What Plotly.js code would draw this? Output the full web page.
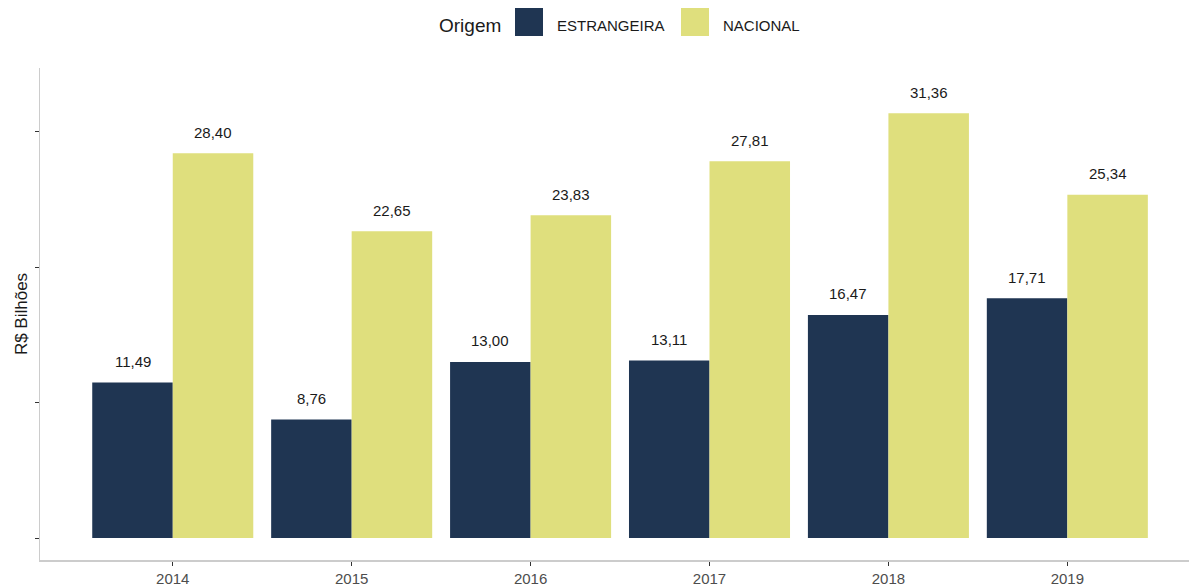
<!DOCTYPE html>
<html>
<head>
<meta charset="utf-8">
<script src="https://cdn.plot.ly/plotly-3.0.1.min.js"></script>
<style>html,body{margin:0;padding:0;background:#fff;}#chart{width:1189px;height:586px;}</style>
</head>
<body>
<div id="chart"></div>
<script>
const years = ['2014', '2015', '2016', '2017', '2018', '2019'];
const estrangeira = [11.49, 8.76, 13.00, 13.11, 16.47, 17.71];
const nacional = [28.40, 22.65, 23.83, 27.81, 31.36, 25.34];
const seriesNames = ['ESTRANGEIRA', 'NACIONAL'];
const seriesColors = ['#1f3552', '#dfdf7d'];
const yTicks = [0, 10, 20, 30];

const fmt = v => v.toFixed(2).replace('.', ',');
const FONT = 'Liberation Sans, Arial, sans-serif';

const traces = [estrangeira, nacional].map((vals, k) => ({
  type: 'bar',
  x: years,
  y: vals,
  name: seriesNames[k],
  marker: {color: seriesColors[k], line: {width: 0}},
  showlegend: false,
  hoverinfo: 'x+y+name'
}));

const annotations = [];
[estrangeira, nacional].forEach((vals, k) => {
  vals.forEach((v, i) => {
    annotations.push({
      xref: 'x', yref: 'y',
      x: i + (k === 0 ? -0.225 : 0.225),
      y: v,
      text: fmt(v),
      showarrow: false,
      yanchor: 'middle',
      yshift: 21,
      font: {family: FONT, size: 15, color: '#1a1a1a'}
    });
  });
});

// custom legend
const shapes = [];
annotations.push({
  xref: 'paper', yref: 'paper', x: (437 - 40) / 1149, y: 1 + (68 - 26) / 492,
  xanchor: 'left', yanchor: 'middle', text: 'Origem', showarrow: false,
  font: {family: FONT, size: 19, color: '#1a1a1a'}
});
const swX = [515, 681];
const txX = [555, 721];
seriesNames.forEach((nm, k) => {
  shapes.push({
    type: 'rect', xref: 'paper', yref: 'paper',
    x0: (swX[k] - 40) / 1149, x1: (swX[k] + 28 - 40) / 1149,
    y0: 1 + (68 - 36) / 492, y1: 1 + (68 - 8) / 492,
    fillcolor: seriesColors[k], line: {width: 0}
  });
  annotations.push({
    xref: 'paper', yref: 'paper', x: (txX[k] - 40) / 1149, y: 1 + (68 - 25) / 492,
    xanchor: 'left', yanchor: 'middle', text: nm, showarrow: false,
    font: {family: FONT, size: 15, color: '#1a1a1a'}
  });
});

const layout = {
  width: 1189, height: 586,
  margin: {l: 40, r: 0, t: 68, b: 26},
  paper_bgcolor: '#ffffff', plot_bgcolor: '#ffffff',
  barmode: 'group', bargap: 0.1, bargroupgap: 0,
  showlegend: false,
  font: {family: FONT},
  xaxis: {
    type: 'category',
    range: [-0.742, 5.68],
    showline: true, linecolor: '#cccccc', linewidth: 1.5,
    ticks: 'outside', ticklen: 4, tickwidth: 1, tickcolor: '#333333',
    showgrid: false, zeroline: false,
    tickfont: {family: FONT, size: 15, color: '#4d4d4d'},
    fixedrange: true
  },
  yaxis: {
    range: [-1.62, 34.7],
    tickvals: yTicks,
    showticklabels: false,
    showline: true, linecolor: '#cccccc', linewidth: 1.5,
    ticks: 'outside', ticklen: 4, tickwidth: 1, tickcolor: '#333333',
    showgrid: false, zeroline: false,
    title: {text: 'R$ Bilhões', font: {family: FONT, size: 17, color: '#1a1a1a'}, standoff: 2},
    fixedrange: true
  },
  annotations: annotations,
  shapes: shapes
};

Plotly.newPlot('chart', traces, layout, {displayModeBar: false, staticPlot: true});
</script>
</body>
</html>
